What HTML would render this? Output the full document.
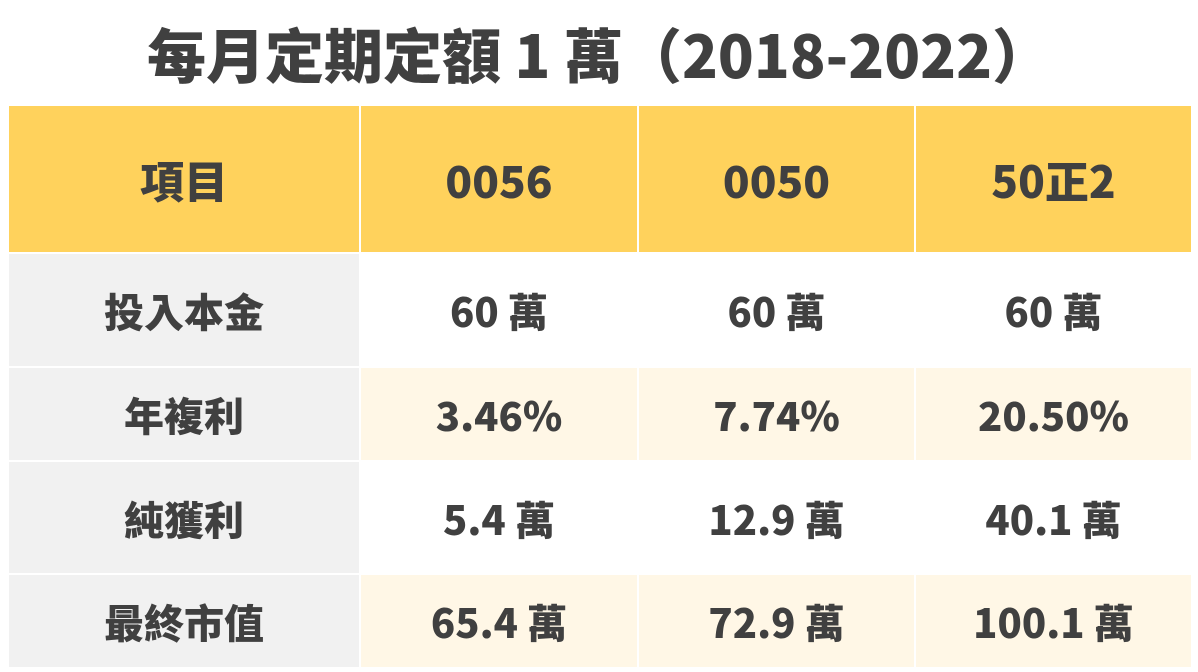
<!DOCTYPE html>
<html><head><meta charset="utf-8"><style>
body{margin:0;width:1198px;height:672px;background:#fff;overflow:hidden;font-family:"Liberation Sans","Noto Sans CJK TC",sans-serif;color:#404040;}
h1{position:absolute;left:0;top:16px;width:1198px;margin:0;text-align:center;font-size:59px;font-weight:900;line-height:74px;font-family:"Noto Sans CJK TC","Liberation Sans",sans-serif;}
table{position:absolute;left:7px;top:104px;border-collapse:collapse;font-family:"Noto Sans CJK TC",sans-serif;}
td{text-align:center;font-weight:900;font-size:40px;border:2px solid #fff;padding:0;}
.h td{background:#FFD25C;height:146px;font-size:44px;}
td.l{background:#f1f1f1;}
.alt td{background:#FFF7E6;}
.alt td.l{background:#f1f1f1;}
</style></head><body>
<h1>每月定期定額 1 萬（2018-2022）</h1>
<table>
<colgroup><col style="width:352px"><col style="width:278px"><col style="width:277px"><col style="width:277px"></colgroup>
<tr class="h"><td>項目</td><td>0056</td><td>0050</td><td>50正2</td></tr>
<tr style="height:114px"><td class="l">投入本金</td><td>60 萬</td><td>60 萬</td><td>60 萬</td></tr>
<tr class="alt" style="height:94px"><td class="l">年複利</td><td>3.46%</td><td>7.74%</td><td>20.50%</td></tr>
<tr style="height:113px"><td class="l">純獲利</td><td>5.4 萬</td><td>12.9 萬</td><td>40.1 萬</td></tr>
<tr class="alt" style="height:94px"><td class="l">最終市值</td><td>65.4 萬</td><td>72.9 萬</td><td>100.1 萬</td></tr>
</table>
</body></html>
